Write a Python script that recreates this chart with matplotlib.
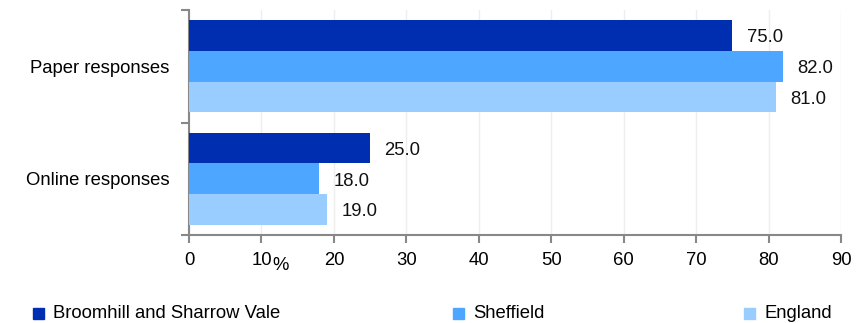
import matplotlib
matplotlib.use("Agg")
import matplotlib.pyplot as plt
import numpy as np

categories = ["Paper responses", "Online responses"]
series_names = ["Broomhill and Sharrow Vale", "Sheffield", "England"]
broomhill = [75.0, 25.0]
sheffield = [82.0, 18.0]
england = [81.0, 19.0]
colors = ["#002EB0", "#4DA6FF", "#99CCFF"]
xticks = [0, 10, 20, 30, 40, 50, 60, 70, 80, 90]

plt.rcParams['font.family'] = ['Liberation Sans', 'DejaVu Sans']
FS = 13.3

fig = plt.figure(figsize=(8.63, 3.23), dpi=100)
ax = fig.add_axes([189/863, 1-235/323, (841-189)/863, (235-10)/323])

data = [broomhill, sheffield, england]
ypos = np.arange(len(categories))
bh = 0.272
for i, (vals, col, name) in enumerate(zip(data, colors, series_names)):
    y = ypos + (i - 1) * bh
    ax.barh(y, vals, height=bh, color=col, label=name, zorder=3)
    for yy, v in zip(y, vals):
        ax.text(v + 2.0, yy + 0.02, f"{v:.1f}", va='center', ha='left', fontsize=FS, color='#111111')

ax.set_ylim(1.5, -0.5)
ax.set_xlim(0, 90)
ax.set_xticks(xticks)
ax.set_xticklabels([str(t) for t in xticks], fontsize=FS)
ax.set_yticks([-0.5, 0.5, 1.5])
ax.set_yticklabels([])
ax.set_yticks(ypos, minor=True)
ax.set_yticklabels(categories, minor=True, fontsize=FS)
ax.tick_params(axis='y', which='minor', length=0, pad=14)
ax.tick_params(axis='y', which='major', length=6, color='#888888', width=1.5)
ax.tick_params(axis='x', length=6, color='#888888', width=1.5, pad=6)
ax.grid(axis='x', color='#EEEEEE', linewidth=1.0, zorder=0)
for s in ['top', 'right']:
    ax.spines[s].set_visible(False)
for s in ['left', 'bottom']:
    ax.spines[s].set_color('#888888')
    ax.spines[s].set_linewidth(1.5)

ax.text((272-189)/652, -(257-235)/225, "%", transform=ax.transAxes, fontsize=FS, ha='left', va='top')

handles, labels = ax.get_legend_handles_labels()
xs = [33, 453, 744]
for h, lab, x in zip(handles, labels, xs):
    fc = h.patches[0].get_facecolor()
    fig.patches.append(plt.Rectangle((x/863, 1-319/323), 11/863, 11/323,
                                     transform=fig.transFigure, color=fc))
    fig.text((x+20)/863, 1-313/323, lab, fontsize=FS, va='center', ha='left')

fig.savefig("out.png", dpi=100)
